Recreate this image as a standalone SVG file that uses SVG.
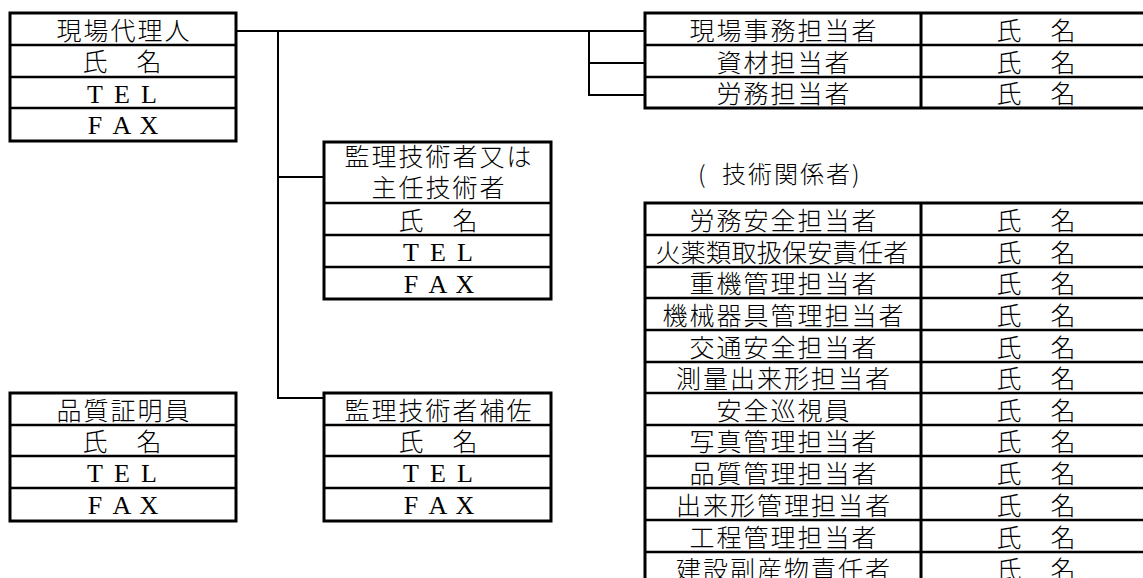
<svg xmlns="http://www.w3.org/2000/svg" width="1143" height="578" viewBox="0 0 1143 578">
<style>
.box{fill:#fff;stroke:#000;stroke-width:3}
.ln{stroke:#000;stroke-width:2.5;fill:none}
.cn{stroke:#000;stroke-width:2;fill:none}
.t{font-family:"Noto Sans CJK JP",sans-serif;font-size:25px;font-weight:300;letter-spacing:2px;text-anchor:middle;fill:#000}
.t2{font-family:"Noto Sans CJK JP",sans-serif;font-size:25px;font-weight:300;letter-spacing:0.3px;text-anchor:middle;fill:#000}
.n{font-family:"Noto Sans CJK JP",sans-serif;font-size:25px;font-weight:300;text-anchor:middle;fill:#000}
.e{font-family:"Liberation Serif",serif;font-size:26px;text-anchor:middle;fill:#000}
.lb{font-family:"Noto Sans CJK JP",sans-serif;font-size:24px;font-weight:300;letter-spacing:2px;fill:#000}
</style>
<rect width="1143" height="578" fill="#fff"/>

<g id="connectors">
<path class="cn" d="M236 31H645"/>
<path class="cn" d="M278 31V398H324"/>
<path class="cn" d="M278 177H324"/>
<path class="cn" d="M589 31V95H645M589 63H645"/>
</g>

<g id="genba-dairinin">
<rect class="box" x="10" y="13" width="226" height="128"/>
<path class="ln" d="M10 45H236M10 77H236M10 108H236"/>
<text class="t" x="124" y="40">現場代理人</text>
<text class="n" x="95 122 149" y="71">氏　名</text>
<text class="e" x="95 122 149" y="103">TEL</text>
<text class="e" x="95 122 149" y="134">FAX</text>
</g>

<g id="kanri-gijutsusha">
<rect class="box" x="324" y="142" width="227" height="157"/>
<path class="ln" d="M324 203H551M324 235H551M324 267H551"/>
<text class="t" x="439" y="166">監理技術者又は</text>
<text class="t" x="439" y="197">主任技術者</text>
<text class="n" x="411 438 465" y="230">氏　名</text>
<text class="e" x="411 438 465" y="261">TEL</text>
<text class="e" x="411 438 465" y="293">FAX</text>
</g>

<g id="hinshitsu-shomeiin">
<rect class="box" x="10" y="393" width="226" height="128"/>
<path class="ln" d="M10 425H236M10 456H236M10 488H236"/>
<text class="t" x="124" y="420">品質証明員</text>
<text class="n" x="95 122 149" y="451">氏　名</text>
<text class="e" x="95 122 149" y="482">TEL</text>
<text class="e" x="95 122 149" y="514">FAX</text>
</g>

<g id="kanri-hosa">
<rect class="box" x="324" y="393" width="227" height="128"/>
<path class="ln" d="M324 425H551M324 456H551M324 488H551"/>
<text class="t" x="439" y="420">監理技術者補佐</text>
<text class="n" x="411 438 465" y="451">氏　名</text>
<text class="e" x="411 438 465" y="482">TEL</text>
<text class="e" x="411 438 465" y="514">FAX</text>
</g>

<g id="jimu-table">
<rect class="box" x="645" y="13" width="520" height="95"/>
<path class="ln" d="M645 45H1165M645 77H1165"/>
<path class="box" d="M921 13V108"/>
<text class="t" x="784" y="40">現場事務担当者</text>
<text class="n" x="1009 1036 1063" y="40">氏　名</text>
<text class="t" x="784" y="72">資材担当者</text>
<text class="n" x="1009 1036 1063" y="72">氏　名</text>
<text class="t" x="784" y="103">労務担当者</text>
<text class="n" x="1009 1036 1063" y="103">氏　名</text>
</g>

<g id="gijutsu-label">
<text class="lb" y="183"><tspan x="698">( </tspan><tspan x="722">技術関係者)</tspan></text>
</g>

<g id="gijutsu-table">
<rect class="box" x="645" y="203" width="520" height="381"/>
<path class="ln" d="M645 235H1165M645 267H1165M645 298H1165M645 330H1165M645 362H1165M645 393H1165M645 425H1165M645 456H1165M645 488H1165M645 520H1165M645 552H1165"/>
<path class="box" d="M921 203V584"/>
<text class="t" x="784" y="230">労務安全担当者</text>
<text class="t2" x="782" y="262">火薬類取扱保安責任者</text>
<text class="t" x="784" y="293">重機管理担当者</text>
<text class="t" x="784" y="325">機械器具管理担当者</text>
<text class="t" x="784" y="357">交通安全担当者</text>
<text class="t" x="784" y="388">測量出来形担当者</text>
<text class="t" x="784" y="420">安全巡視員</text>
<text class="t" x="784" y="451">写真管理担当者</text>
<text class="t" x="784" y="483">品質管理担当者</text>
<text class="t" x="784" y="515">出来形管理担当者</text>
<text class="t" x="784" y="547">工程管理担当者</text>
<text class="t" x="784" y="579">建設副産物責任者</text>
<text class="n" x="1009 1036 1063" y="230">氏　名</text>
<text class="n" x="1009 1036 1063" y="262">氏　名</text>
<text class="n" x="1009 1036 1063" y="293">氏　名</text>
<text class="n" x="1009 1036 1063" y="325">氏　名</text>
<text class="n" x="1009 1036 1063" y="357">氏　名</text>
<text class="n" x="1009 1036 1063" y="388">氏　名</text>
<text class="n" x="1009 1036 1063" y="420">氏　名</text>
<text class="n" x="1009 1036 1063" y="451">氏　名</text>
<text class="n" x="1009 1036 1063" y="483">氏　名</text>
<text class="n" x="1009 1036 1063" y="515">氏　名</text>
<text class="n" x="1009 1036 1063" y="547">氏　名</text>
<text class="n" x="1009 1036 1063" y="579">氏　名</text>
</g>
</svg>
